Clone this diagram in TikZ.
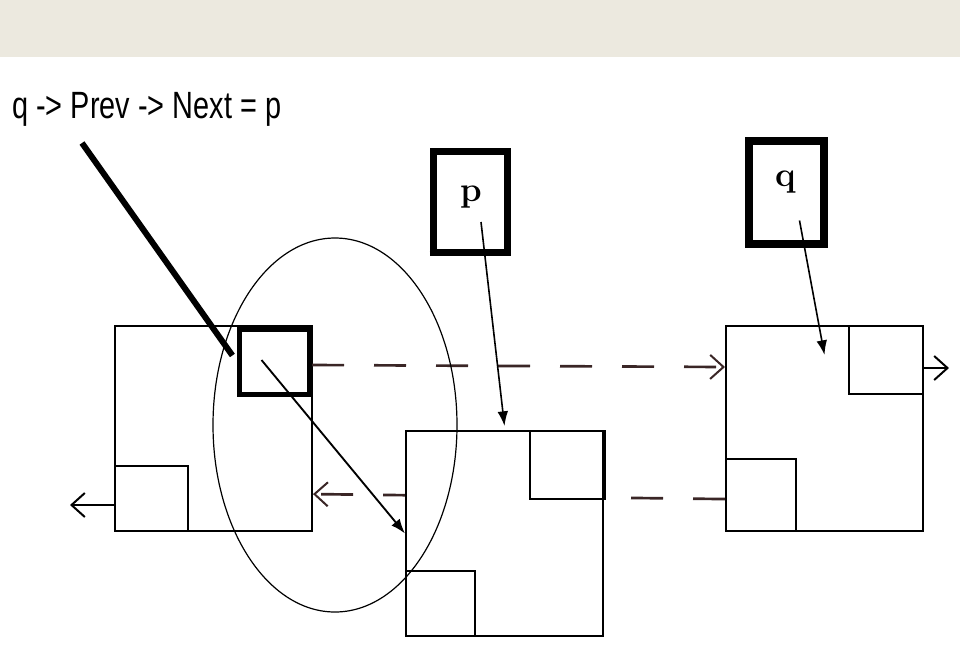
\documentclass[tikz,border=0pt]{standalone}
\usepackage{fontspec}
\usepackage{graphicx}
\newfontfamily\labfont{Liberation Sans}
\usetikzlibrary{arrows.meta,shapes.geometric,calc}
\definecolor{bandcol}{HTML}{ECE9DF}
\definecolor{dashcol}{HTML}{3A2626}
\def\PX{0.75pt}
\begin{document}
\begin{tikzpicture}[x=0.75pt,y=-0.75pt,
  node box/.style={draw=black, line width=1.5pt, fill=white, inner sep=0pt,
                   minimum width=197*\PX, minimum height=205*\PX},
  inner box/.style={draw=black, line width=1.4pt, inner sep=0pt},
  thick box/.style={draw=black, inner sep=0pt, fill=white},
  dashlink/.style={draw=dashcol, line width=2pt, dash pattern=on 24pt off 22.5pt},
  openarrow/.style={-{Straight Barb[length=10pt,width=18pt,line width=1.5pt]}},
  solidarrow/.style={-{Latex[length=11pt,width=8pt]}},
  letter/.style={inner sep=0pt, font=\fontsize{26}{26}\selectfont\bfseries}
]
\useasboundingbox (0,0) rectangle (960,662);

% top band
\node[fill=bandcol, inner sep=0pt, minimum width=960*\PX, minimum height=57*\PX,
      anchor=north west] (band) at (0,0) {};

% label
\node[anchor=base west, inner sep=0pt] (lab) at (12,118)
  {\scalebox{0.76}[1]{\labfont\fontsize{28.5}{30}\selectfont q -> Prev -> Next = p}};
\coordinate (lab0) at (82,143);

% left node
\node[node box, anchor=north west] (L) at (114,325) {};
\node[inner box, minimum width=73*\PX, minimum height=65*\PX, anchor=south west] (Lprev) at (L.south west) {};
\node[thick box, line width=3.75pt, minimum width=70*\PX, minimum height=65*\PX] (Lnext) at (274.5,362) {};

% right node
\node[node box, anchor=north west] (R) at (725,325) {};
\node[inner box, minimum width=74*\PX, minimum height=68*\PX, anchor=north east] (Rnext) at (R.north east) {};
\node[inner box, minimum width=70*\PX, minimum height=72*\PX, anchor=south west] (Rprev) at (R.south west) {};

% R prev -> L (behind middle node)
\draw[dashlink, openarrow] ($(Rprev.west)+(0,4)$) -- ($(Rprev.west -| L.east)+(0,-1)$);

% middle node
\node[node box, anchor=north west] (M) at (405,430) {};
\node[inner box, minimum width=73*\PX, minimum height=68*\PX, anchor=north east] (Mnext) at (M.north east) {};
\draw[line width=2.6pt] (Mnext.north east) -- (Mnext.south east);
\node[inner box, minimum width=69*\PX, minimum height=65*\PX, anchor=south west] (Mprev) at (M.south west) {};

% L next -> R
\draw[dashlink, openarrow] ($(Lnext.east)+(0,3)$) -- ($(Lnext.east -| R.west)+(0,5)$);

% outer arrows
\coordinate (rout) at (949,368);
\draw[line width=1.5pt, openarrow] (rout -| R.east) -- (rout);
\coordinate (lout) at (70,505);
\draw[line width=1.5pt, openarrow] (lout -| L.west) -- (lout);

% p pointer box
\node[thick box, line width=5.25pt, minimum width=74*\PX, minimum height=101*\PX] (p) at (470,202) {};
\draw[line width=2.25pt] ($(p.south west)+(0,-4)$) -- ($(p.south east)+(0,-4)$);
\node[letter, anchor=base] (ptext) at (471,201) {p};

% q pointer box
\node[thick box, line width=6pt, minimum width=75*\PX, minimum height=103*\PX] (q) at (786.5,192.5) {};
\draw[line width=2.25pt] ($(q.north west)+(0,4)$) -- ($(q.north east)+(0,4)$);
\node[letter, anchor=base] (qtext) at (786,186) {q};

% pointer arrows
\draw[line width=1.2pt, solidarrow] ($(p.center)+(11,20)$) -- ($(M.north)+(0,-4)$);
\draw[line width=1.2pt, solidarrow] ($(q.center)+(13,28)$) -- ($(R.north)+(0,30)$);

% q->Prev->Next now points to p's node
\draw[line width=1.4pt, solidarrow] ($(Lnext.center)+(-13,-2)$) -- (M.west);

% label pointer
\draw[line width=4.5pt, shorten >=6pt] (lab0) -- (Lnext.west);

% ellipse
\node[draw, ellipse, line width=0.9pt, minimum width=244*\PX, minimum height=374*\PX, inner sep=0pt] (circ) at (335,425) {};
\end{tikzpicture}
\end{document}
